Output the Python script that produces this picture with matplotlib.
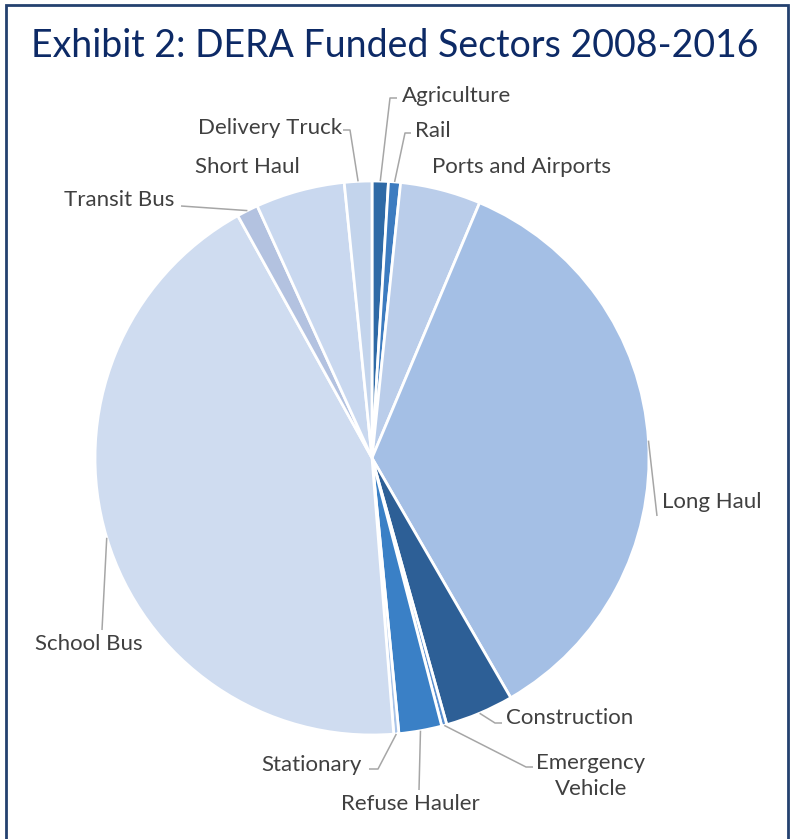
import matplotlib.pyplot as plt
from matplotlib.patches import Rectangle
import numpy as np

# DERA funded sectors, share of funding (%), clockwise from 12 o'clock
sectors = ["Agriculture", "Rail", "Ports and Airports", "Long Haul", "Construction",
           "Emergency\nVehicle", "Refuse Hauler", "Stationary", "School Bus",
           "Transit Bus", "Short Haul", "Delivery Truck"]
shares = [0.95, 0.7, 4.7, 35.3, 4.0, 0.3, 2.5, 0.3, 43.2, 1.25, 5.2, 1.6]
colors = ["#2f6aa6", "#3d7cc0", "#bacdea", "#a4bfe5", "#2d5f96", "#5b8fcf",
          "#3a80c6", "#a9c4e8", "#cfdcf0", "#b3c2e0", "#c9d8ef", "#c3d4ec"]

W, H = 790, 839
cx, cy, R = 372, 458, 277

def px(x, y):
    # pixel position -> data coords (pie radius = 1)
    return (x - cx) / R, (cy - y) / R

plt.rcParams['font.family'] = ['Lato', 'DejaVu Sans']
fig = plt.figure(figsize=(W / 100, H / 100), dpi=100)
ax = fig.add_axes([0, 0, 1, 1])

wedges, _ = ax.pie(shares, colors=colors, startangle=90, counterclock=False,
                   radius=1, wedgeprops=dict(edgecolor='white', linewidth=2))

# pie() resets the limits, so map the axes to pixels afterwards
ax.set_xlim(-cx / R, (W - cx) / R)
ax.set_ylim(-(H - cy) / R, cy / R)
ax.set_aspect('equal')
ax.axis('off')

# mid angle of each wedge on the rim, for leader lines
bounds = np.concatenate([[0], np.cumsum(shares)]) / sum(shares) * 360
mids = np.deg2rad(90 - (bounds[:-1] + bounds[1:]) / 2)

tc = "#404040"
lc = "#a6a6a6"
fs = 16

# label layout: text anchor pixel, alignment, leader bend points (pixels) or None
layout = {
    "Agriculture": ((402, 96), 'left', [(390, 98), (397, 98)]),
    "Rail": ((415, 131), 'left', [(405, 133), (411, 133)]),
    "Ports and Airports": ((432, 167), 'left', None),
    "Long Haul": ((662, 502), 'left', [(657, 516)]),
    "Construction": ((506, 718), 'left', [(495, 723), (502, 723)]),
    "Emergency\nVehicle": ((591, 776), 'center', [(526, 767), (533, 767)]),
    "Refuse Hauler": ((410, 804), 'center', [(419, 790)]),
    "Stationary": ((362, 765), 'right', [(378, 769), (369, 769)]),
    "School Bus": ((89, 644), 'center', [(102, 630)]),
    "Transit Bus": ((119, 200), 'center', [(181, 206)]),
    "Short Haul": ((247, 167), 'center', None),
    "Delivery Truck": ((270, 128), 'center', [(350, 130), (343, 130)]),
}

for name, mid in zip(sectors, mids):
    (tx, ty), ha, bend = layout[name]
    x, y = px(tx, ty)
    ls = 1.35 if "\n" in name else 1.2
    ax.text(x, y, name, ha=ha, va='center', fontsize=fs, color=tc, linespacing=ls)
    if bend:
        pts = [(np.cos(mid), np.sin(mid))] + [px(*b) for b in bend]
        xs, ys = zip(*pts)
        ax.plot(xs, ys, color=lc, lw=1.1, solid_capstyle='butt')

fig.text(395 / W, 1 - 46 / H, "Exhibit 2: DERA Funded Sectors 2008-2016",
         ha='center', va='center', fontsize=27, color="#0d2a66")

# outer frame, open at the bottom edge
fig.add_artist(Rectangle((6 / W, -0.05), (788 - 6) / W, 1.05 - 5 / H,
                         transform=fig.transFigure, fill=False,
                         edgecolor="#24416f", linewidth=2))

fig.savefig("out.png", dpi=100)
